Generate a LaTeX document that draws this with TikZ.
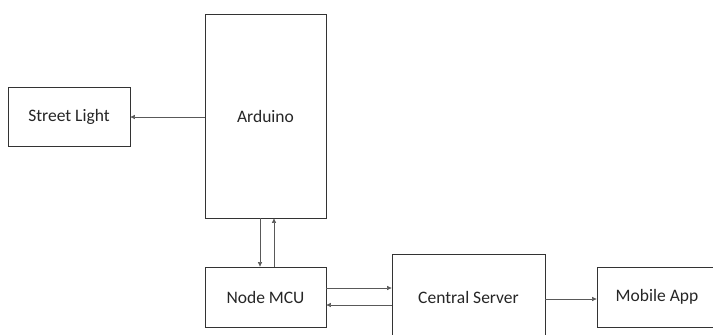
\documentclass[tikz,border=0pt]{standalone}
\usepackage{fontspec}
\setmainfont{Carlito}
\usetikzlibrary{arrows.meta}
\begin{document}
\begin{tikzpicture}[x=1pt,y=-1pt,
  lbl/.style={font=\fontsize{17.5}{20}\selectfont,text=black!85},
  blk/.style={draw=black!80,line width=0.8pt,inner sep=0pt,lbl},
  conn/.style={draw=black!65,line width=0.6pt,-{Triangle[length=4.5pt,width=4pt]}}]
\useasboundingbox[fill=white] (0,0) rectangle (713,335);
\node[blk,minimum width=122pt,minimum height=59pt] (sl) at (69,116.5) {Street Light};
\node[blk,minimum width=121pt,minimum height=204pt] (ard) at (265.5,116) {Arduino};
\node[blk,minimum width=121pt,minimum height=60pt] (mcu) at (265.5,297) {Node MCU};
\node[blk,minimum width=153pt,minimum height=100pt] (cs) at (468.5,304) {};
\node[lbl] (cst) at (468.5,297) {Central Server};
\node[blk,minimum width=124pt,minimum height=60pt] (app) at (659,297) {};
\node[lbl] (appt) at (657,297) {Mobile App};
\draw[conn] (ard.west |- 0,117) -- (sl.east |- 0,117);
\draw[conn] (ard.south -| 260,0) -- (mcu.north -| 260,0);
\draw[conn] (mcu.north -| 274,0) -- (ard.south -| 274,0);
\draw[conn] (mcu.east |- 0,288) -- (cs.west |- 0,288);
\draw[conn] (cs.west |- 0,305) -- (mcu.east |- 0,305);
\draw[conn] (cs.east |- 0,299) -- (app.west |- 0,299);
\end{tikzpicture}
\end{document}
